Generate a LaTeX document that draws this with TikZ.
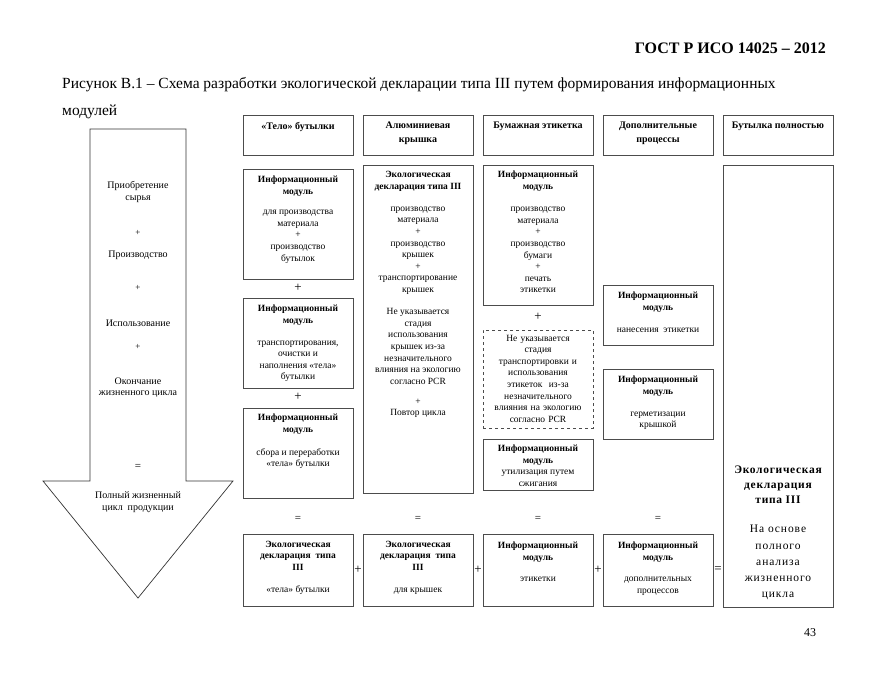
\documentclass[tikz,border=0pt]{standalone}
\usepackage{fontspec}
\setmainfont{Liberation Serif}
\usetikzlibrary{fit}
\begin{document}
\begin{tikzpicture}[x=1pt,y=-1pt,
  box/.style={draw=black!70, line width=0.7pt, inner sep=0pt},
  dbox/.style={box, dashed},
  txt/.style={align=center, font=\fontsize{9.5}{11.6}\selectfont, inner sep=0pt, anchor=north},
  hd/.style={align=center, font=\fontsize{10}{14}\selectfont\bfseries, inner sep=0pt, anchor=north},
  sym/.style={font=\fontsize{13}{13}\selectfont, inner sep=0pt},
  big/.style={align=center, font=\fontsize{11.5}{16.3}\selectfont\addfontfeature{LetterSpace=8}, inner sep=0pt, anchor=north}
]
\useasboundingbox (0,0) rectangle (880,680);

% page header
\node[anchor=east, font=\fontsize{16}{16}\selectfont\bfseries, inner sep=0pt] (gost) at (826,48) {ГОСТ Р ИСО 14025 – 2012};
\node[anchor=west, font=\fontsize{15.5}{15.5}\selectfont, inner sep=0pt] (cap1) at (62,85) {Рисунок В.1 – Схема разработки экологической декларации типа III путем формирования информационных};
\node[anchor=west, font=\fontsize{15.5}{15.5}\selectfont, inner sep=0pt] (cap2) at (62,112) {модулей};
\node[font=\fontsize{12}{12}\selectfont, inner sep=0pt] (page) at (810,633) {43};

% left arrow
\draw[draw=black!80, line width=0.7pt] (90,129) -- (186,129) -- (186,481) -- (233,481) -- (138,598) -- (43,481) -- (90,481) -- cycle;
\node[txt, font=\fontsize{10}{12}\selectfont] (a1) at (138,181) {Приобретение\\сырья};
\node[sym, font=\fontsize{9}{9}\selectfont] (a2) at (138,233) {+};
\node[txt, anchor=center, font=\fontsize{10}{12}\selectfont] (a3) at (138,255) {Производство};
\node[sym, font=\fontsize{9}{9}\selectfont] (a4) at (138,288) {+};
\node[txt, anchor=center, font=\fontsize{10}{12}\selectfont] (a5) at (138,323) {Использование};
\node[sym, font=\fontsize{9}{9}\selectfont] (a6) at (138,347) {+};
\node[txt, font=\fontsize{10}{11.5}\selectfont] (a7) at (138,377.5) {Окончание\\жизненного цикла};
\node[sym, font=\fontsize{11}{11}\selectfont] (a8) at (138,467) {=};
\node[txt, font=\fontsize{10}{12}\selectfont] (a9) at (138,491) {Полный жизненный\\цикл\ \ продукции};

% headers
\foreach \i/\x/\t in {1/243/{«Тело» бутылки},2/363/{Алюминиевая\\крышка},3/483/{Бумажная этикетка},4/603/{Дополнительные\\процессы},5/723/{Бутылка полностью}}{
  \node[box, fit={(\x,115) (\x+110,155)}] (h\i) {};
  \node[hd] (ht\i) at ([yshift=-7pt]h\i.north) {\t};
}

% column 1
\node[box, fit={(243,169) (353,279)}] (b11) {};
\node[txt] (t11) at ([yshift=-7pt]b11.north) {\textbf{Информационный}\\\textbf{модуль}\\[9pt]для производства\\материала\\+\\производство\\бутылок};
\node[sym] (p11) at (298,288) {+};
\node[box, fit={(243,298) (353,388)}] (b12) {};
\node[txt] (t12) at ([yshift=-7.5pt]b12.north) {\textbf{Информационный}\\\textbf{модуль}\\[10pt]транспортирования,\\очистки и\\наполнения «тела»\\бутылки};
\node[sym] (p12) at (298,397) {+};
\node[box, fit={(243,408) (353,498)}] (b13) {};
\node[txt] (t13) at ([yshift=-6.5pt]b13.north) {\textbf{Информационный}\\\textbf{модуль}\\[11pt]сбора и переработки\\«тела» бутылки};

% column 2
\node[box, fit={(363,165) (473,493)}] (b2) {};
\node[txt] (t2) at ([yshift=-6.5pt]b2.north) {\textbf{Экологическая}\\\textbf{декларация типа III}\\[10.5pt]производство\\материала\\+\\производство\\крышек\\+\\транспортирование\\крышек\\[10.5pt]Не указывается\\стадия\\использования\\крышек из-за\\незначительного\\влияния на экологию\\согласно PCR\\[8.5pt]+\\Повтор цикла};

% column 3
\node[box, fit={(483,165) (593,305)}] (b31) {};
\node[txt] (t31) at ([yshift=-6.5pt]b31.north) {\textbf{Информационный}\\\textbf{модуль}\\[10.5pt]производство\\материала\\+\\производство\\бумаги\\+\\печать\\этикетки};
\node[sym] (p31) at (538,317) {+};
\node[dbox, fit={(483,330) (593,428)}] (b32) {};
\node[txt, text width=106pt] (t32) at ([yshift=-5pt]b32.north) {\centering Не указывается\\стадия\\транспортировки и\\использования\\этикеток\ \ из-за\\незначительного\\влияния на экологию\\согласно PCR};
\node[box, fit={(483,439) (593,490)}] (b33) {};
\node[txt] (t33) at ([yshift=-6pt]b33.north) {\textbf{Информационный}\\\textbf{модуль}\\утилизация путем\\сжигания};

% column 4
\node[box, fit={(603,285) (713,345)}] (b41) {};
\node[txt] (t41) at ([yshift=-7pt]b41.north) {\textbf{Информационный}\\\textbf{модуль}\\[10.5pt]нанесения\ \ этикетки};
\node[box, fit={(603,369) (713,439)}] (b42) {};
\node[txt] (t42) at ([yshift=-7pt]b42.north) {\textbf{Информационный}\\\textbf{модуль}\\[10.5pt]герметизации\\крышкой};

% column 5
\node[box, fit={(723,165) (833,607)}] (b5) {};
\node[big, font=\fontsize{11.5}{15}\selectfont\bfseries\addfontfeature{LetterSpace=6}] (t5a) at (778,466) {Экологическая\\декларация\\типа III};
\node[big] (t5b) at (778,525) {На основе\\полного\\анализа\\жизненного\\цикла};

% equals under columns
\foreach \i/\x in {1/298,2/418,3/538,4/658}{
  \node[sym, font=\fontsize{11}{11}\selectfont] (e\i) at (\x,519) {=};
}

% bottom row
\node[box, fit={(243,534) (353,606)}] (c1) {};
\node[txt] (u1) at ([yshift=-7pt]c1.north) {\textbf{Экологическая}\\\textbf{декларация\ \ типа}\\\textbf{III}\\[10.5pt]«тела» бутылки};
\node[box, fit={(363,534) (473,606)}] (c2) {};
\node[txt] (u2) at ([yshift=-7pt]c2.north) {\textbf{Экологическая}\\\textbf{декларация\ \ типа}\\\textbf{III}\\[10.5pt]для крышек};
\node[box, fit={(483,534) (593,606)}] (c3) {};
\node[txt] (u3) at ([yshift=-8pt]c3.north) {\textbf{Информационный}\\\textbf{модуль}\\[10pt]этикетки};
\node[box, fit={(603,534) (713,606)}] (c4) {};
\node[txt] (u4) at ([yshift=-8pt]c4.north) {\textbf{Информационный}\\\textbf{модуль}\\[10pt]дополнительных\\процессов};

\node[sym] (q1) at (358,570) {+};
\node[sym] (q2) at (478,570) {+};
\node[sym] (q3) at (598,570) {+};
\node[sym] (q4) at (718,570) {=};
\end{tikzpicture}
\end{document}
